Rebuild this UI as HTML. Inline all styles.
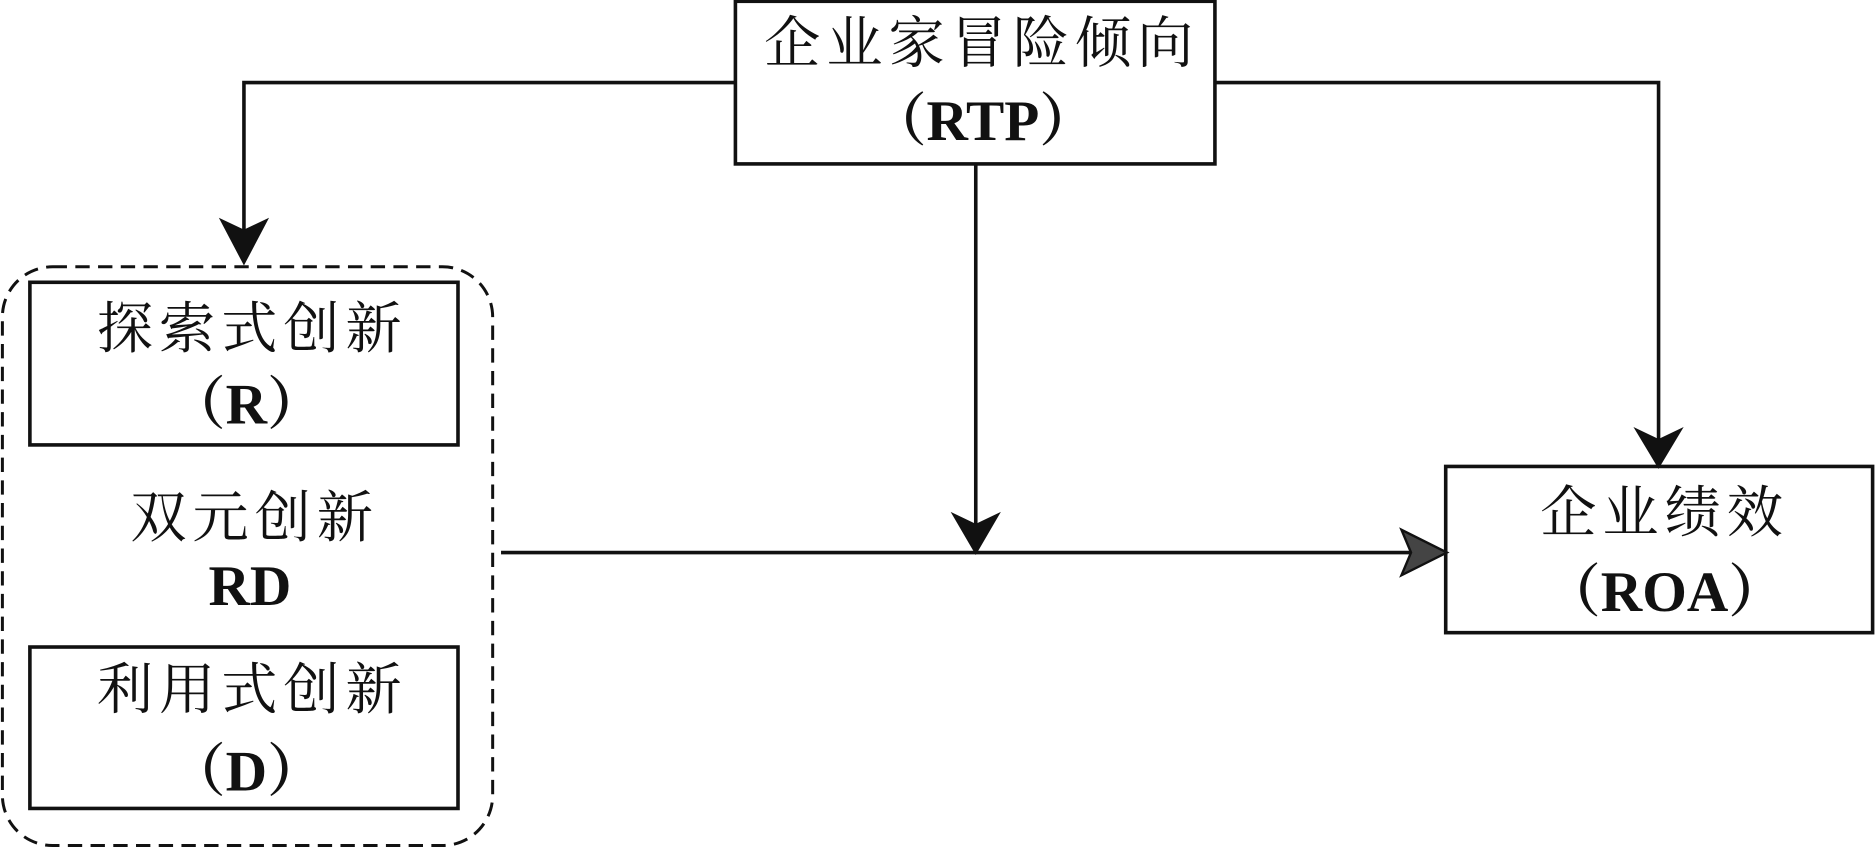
<!DOCTYPE html>
<html><head><meta charset="utf-8"><style>
html,body{margin:0;padding:0;background:#fff;}
svg{display:block;}
text{font-family:"Liberation Serif","Noto Serif CJK SC","Noto Sans CJK SC",serif;fill:#111;}
.c{font-size:47px;letter-spacing:5px;}
.b{font-size:48px;font-weight:bold;}
</style></head><body>
<svg width="1875" height="848" viewBox="0 0 1568 709" xmlns="http://www.w3.org/2000/svg">
<g stroke="#111" stroke-width="3" fill="none">
<rect x="615" y="1" width="401" height="136"/>
<rect x="1209" y="390" width="357" height="139"/>
<rect x="25" y="236" width="358" height="136"/>
<rect x="25" y="541" width="358" height="135"/>
<rect x="2" y="223" width="410" height="484" rx="42" ry="42" stroke-dasharray="12,7" stroke-width="2.5"/>
<polyline points="615,69 204,69 204,200"/>
<polyline points="1016,69 1387,69 1387,370"/>
<line x1="816" y1="137" x2="816" y2="440"/>
<line x1="419" y1="462" x2="1180" y2="462"/>
</g>
<g fill="#111">
<polygon points="183,182 204,192 225,182 204,222"/>
<polygon points="1366,357 1387,367 1408,357 1387,392"/>
<polygon points="795,428 816,438 837,428 816,464"/>
<polygon points="1172,443 1180,462 1172,481 1210,462" fill="#444" stroke="#111" stroke-width="2"/>
</g>
<g text-anchor="middle">
<text x="821" y="52" class="c">企业家冒险倾向</text>
<text x="822" y="117" class="b">（RTP）</text>
<text x="1392" y="445" class="c">企业绩效</text>
<text x="1392" y="511" class="b">（ROA）</text>
<text x="211" y="291" class="c">探索式创新</text>
<text x="206" y="354" class="b">（R）</text>
<text x="213" y="449" class="c">双元创新</text>
<text x="209" y="506" class="b">RD</text>
<text x="211" y="593" class="c">利用式创新</text>
<text x="206" y="661" class="b">（D）</text>
</g>
</svg>
</body></html>
